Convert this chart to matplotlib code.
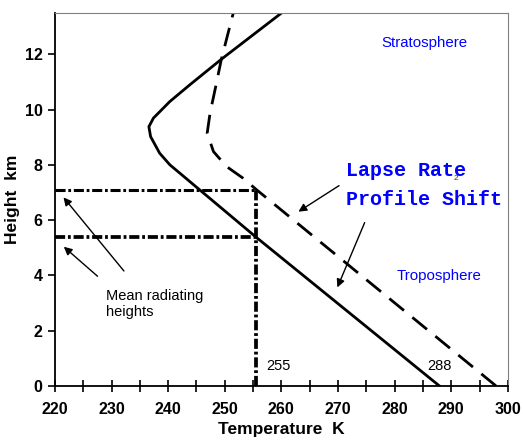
import matplotlib
matplotlib.use("Agg")
import matplotlib.pyplot as plt
from matplotlib.ticker import MultipleLocator

# Data
solid_T = [287.9, 255.6, 240.3, 238.5, 236.9, 236.6, 237.4, 240.3, 243.8, 249.4, 260.0]
solid_h = [0.0, 5.37, 8.0, 8.42, 9.02, 9.38, 9.69, 10.29, 10.89, 11.82, 13.49]
dash_T = [297.9, 255.6, 253.2, 250.3, 248.0, 246.9, 247.4, 248.4, 249.4, 251.5]
dash_h = [0.0, 7.1, 7.52, 7.94, 8.48, 9.15, 9.87, 10.83, 11.82, 13.49]
T_eff = 255.5
h_low = 5.37
h_high = 7.1
x_ticks = [220, 230, 240, 250, 260, 270, 280, 290, 300]
y_ticks = [0, 2, 4, 6, 8, 10, 12]

plain = ['Liberation Sans', 'DejaVu Sans']
mono = ['Liberation Mono', 'DejaVu Sans Mono']

fig = plt.figure(figsize=(5.23, 4.42), dpi=100)
ax = fig.add_axes([0.105, 0.127, 0.866, 0.844])

ax.plot(solid_T, solid_h, color='black', lw=2.0, solid_joinstyle='round')
ax.plot(dash_T, dash_h, color='black', lw=2.0, dashes=(6.8, 3.9))
ax.plot([220, T_eff], [h_high, h_high], color='black', lw=2.2,
        dashes=(3.3, 0.9, 0.9, 0.9))
ax.plot([220, T_eff], [h_low, h_low], color='black', lw=2.7,
        dashes=(2.7, 0.75, 0.75, 0.75))
ax.plot([T_eff, T_eff], [0, h_high], color='black', lw=2.7,
        dashes=(2.7, 0.75, 0.75, 0.75))

ap = dict(arrowstyle='-|>', color='black', lw=1.0, mutation_scale=12)
ax.annotate('', xy=(221.2, 6.9), xytext=(232.5, 4.08), arrowprops=ap)
ax.annotate('', xy=(221.2, 5.1), xytext=(227.9, 3.9), arrowprops=ap)
ax.annotate('', xy=(262.6, 6.25), xytext=(270.6, 7.3), arrowprops=ap)
ax.annotate('', xy=(269.7, 3.47), xytext=(274.9, 6.0), arrowprops=ap)

ax.text(285.3, 12.4, 'Stratosphere', color='blue', fontsize=10.8, family=plain,
        ha='center', va='center')
ax.text(287.9, 3.96, 'Troposphere', color='blue', fontsize=10.8, family=plain,
        ha='center', va='center')
ax.text(271.4, 7.8, 'Lapse Rate', color='blue', fontsize=14.4, family=mono,
        fontweight='bold', ha='left', va='center')
ax.text(271.4, 6.75, 'Profile Shift', color='blue', fontsize=14.4, family=mono,
        fontweight='bold', ha='left', va='center')
ax.text(290.9, 7.5, '2', color='#333333', fontsize=6, family=plain,
        ha='center', va='center')
ax.text(229.1, 3.5, 'Mean radiating\nheights', color='black', fontsize=10.5,
        family=plain, ha='left', va='top', linespacing=1.15)
ax.text(257.3, 0.72, '255', color='black', fontsize=10.5, family=plain,
        ha='left', va='center')
ax.text(285.7, 0.72, '288', color='black', fontsize=10.5, family=plain,
        ha='left', va='center')

ax.set_xlim(220, 300)
ax.set_ylim(0, 13.5)
ax.set_xticks(x_ticks)
ax.set_yticks(y_ticks)
ax.xaxis.set_minor_locator(MultipleLocator(5))
ax.tick_params(axis='x', which='both', direction='inout', length=9, width=1.2,
               pad=7)
ax.tick_params(axis='y', which='major', direction='out', length=5, width=1.2,
               pad=4)
for lab in ax.get_xticklabels() + ax.get_yticklabels():
    lab.set_fontfamily(plain)
    lab.set_fontweight('bold')
    lab.set_fontsize(11.5)
ax.set_xlabel('Temperature  K', fontsize=12.5, fontweight='bold', family=plain,
              labelpad=4)
ax.set_ylabel('Height  km', fontsize=12.5, fontweight='bold', family=plain,
              labelpad=3)
ax.spines['left'].set_linewidth(1.3)
ax.spines['bottom'].set_linewidth(1.3)
ax.spines['top'].set_color('#808080')
ax.spines['right'].set_color('#808080')

fig.savefig('out.png', dpi=100)
